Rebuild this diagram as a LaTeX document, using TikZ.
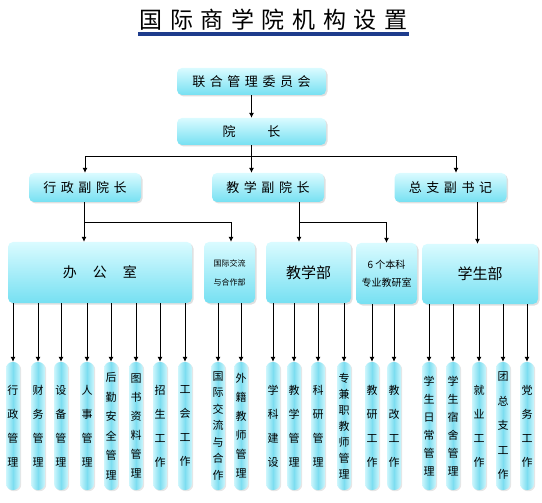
\documentclass[tikz,border=0pt]{standalone}
\usepackage{fontspec}
\setmainfont{Noto Sans CJK SC}
\newfontfamily\widecjk[LetterSpace=35]{Noto Sans CJK SC}
\newfontfamily\titlecjk[LetterSpace=33]{Noto Sans CJK SC}
\usetikzlibrary{arrows.meta, positioning, shadows, calc}
\definecolor{boxtop}{RGB}{218,251,255}
\definecolor{boxbot}{RGB}{118,224,242}
\definecolor{leafedge}{RGB}{205,246,252}
\definecolor{leafmid}{RGB}{125,221,240}
\definecolor{titleblue}{RGB}{30,60,140}

\begin{document}
\begin{tikzpicture}[
  x=1pt, y=-1pt,
  box/.style={rectangle, rounded corners=5pt, top color=boxtop, bottom color=boxbot, draw=none, align=center, inner sep=0pt,
    drop shadow={opacity=0.25, shadow xshift=1.5pt, shadow yshift=-1.5pt}},
  headbox/.style={box, minimum width=149pt, minimum height=27pt, font=\fontsize{13pt}{15pt}\selectfont},
  vpbox/.style={box, minimum width=112pt, minimum height=29pt, font=\fontsize{13pt}{15pt}\selectfont},
  deptbox/.style={box, minimum height=61pt},
  leaf/.style={rectangle, rounded corners=6.5pt, left color=leafedge, right color=leafedge, middle color=leafmid,
    minimum width=14pt, minimum height=128pt, inner sep=0pt, align=center,
    drop shadow={opacity=0.2, shadow xshift=1.2pt, shadow yshift=-1.2pt}},
  ln/.style={draw, line width=0.8pt},
  arr/.style={ln, -{Latex[length=5pt, width=5pt]}}
]
\useasboundingbox (0,0) rectangle (542,503);

\node[minimum width=270pt, inner sep=0pt, font=\fontsize{23pt}{25pt}\selectfont\titlecjk] (title) at (273.5,20) {国际商学院机构设置};
\draw[titleblue, line width=3.5pt] ([yshift=-3pt]title.south west) -- ([yshift=-3pt]title.south east);

\node[headbox] (board) at (251.5,81.5) {\widecjk 联合管理委员会};
\node[headbox] (dean) at (251.5,131.5) {院\hspace{32pt}长};

\node[vpbox] (admin) at (85,187.5) {\widecjk 行政副院长};
\node[vpbox] (teachvp) at (268,187.5) {\widecjk 教学副院长};
\node[vpbox] (party) at (450.5,187.5) {\widecjk 总支副书记};

\node[deptbox, minimum width=184pt, font=\fontsize{14pt}{16pt}\selectfont] (office) at (100,272.5) {办\hspace{16pt}公\hspace{16pt}室};
\node[deptbox, minimum width=51pt, font=\fontsize{8pt}{19pt}\selectfont] (intl) at (229.5,272.5) {国际交流\\与合作部};
\node[deptbox, minimum width=85pt, font=\fontsize{15pt}{17pt}\selectfont] (teach) at (308.5,272.5) {教学部};
\node[deptbox, minimum width=61pt, font=\fontsize{10pt}{18pt}\selectfont] (staff) at (386.5,273.5) {6 个本科\\专业教研室};
\node[deptbox, minimum width=116pt, minimum height=60pt, font=\fontsize{15pt}{17pt}\selectfont] (student) at (480,274) {学生部};

\coordinate (bus) at (251.5,156);
\draw[arr] (board) -- (dean);
\draw[ln] (dean) -- (bus);
\draw[arr] (bus) -| (admin);
\draw[arr] (bus) -- (bus |- teachvp.north);
\draw[arr] (bus) -| ([xshift=5.5pt]party.north);

\draw[arr] ([xshift=-1pt]admin.south) -- (office.north -| 84,0);
\draw[arr] ([xshift=-1pt]admin.south) ++(0,20) -| ([xshift=1.5pt]intl.north);
\draw[arr] ([xshift=31pt]teachvp.south) -- ([xshift=-9.5pt]teach.north);
\draw[arr] ([xshift=31pt]teachvp.south) ++(0,20) -| (staff);
\draw[arr] ([xshift=27pt]party.south) -- ([xshift=-2.5pt]student.north);

\foreach \x/\p/\t/\s [count=\i] in {
  13/office/行\\政\\管\\理/24, 38/office/财\\务\\管\\理/24, 61/office/设\\备\\管\\理/24, 87/office/人\\事\\管\\理/24,
  111/office/后\\勤\\安\\全\\管\\理/19.5, 136/office/图\\书\\资\\料\\管\\理/19, 160/office/招\\生\\工\\作/24, 185/office/工\\会\\工\\作/24,
  218/intl/国\\际\\交\\流\\与\\合\\作/16.5, 241/intl/外\\籍\\教\\师\\管\\理/19,
  273/teach/学\\科\\建\\设/24, 294/teach/教\\学\\管\\理/24, 318/teach/科\\研\\管\\理/24, 344/teach/专\\兼\\职\\教\\师\\管\\理/16,
  372/staff/教\\研\\工\\作/24, 394/staff/教\\改\\工\\作/24,
  429/student/学\\生\\日\\常\\管\\理/18, 453/student/学\\生\\宿\\舍\\管\\理/18, 479/student/就\\业\\工\\作/24,
  503/student/团\\总\\支\\工\\作/24.5, 527/student/党\\务\\工\\作/24}
{
  \node[leaf, font=\fontsize{11pt}{\s pt}\selectfont] (l\i) at (\x,426) {\t};
  \draw[arr] (l\i |- \p.south) -- (l\i);
}
\end{tikzpicture}
\end{document}
